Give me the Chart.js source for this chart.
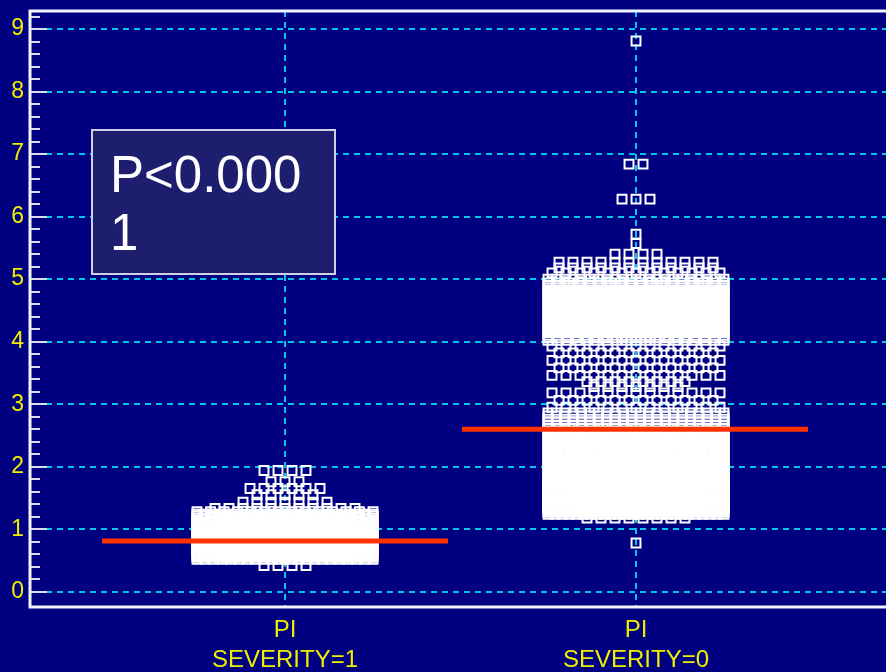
<!DOCTYPE html>
<html>
<head>
<meta charset="utf-8">
<script src="https://cdn.jsdelivr.net/npm/chart.js@4.4.0/dist/chart.umd.min.js"></script>
<style>
  html, body { margin: 0; padding: 0; background: #000080; overflow: hidden; }
  #wrap { position: relative; width: 886px; height: 672px; }
  canvas { display: block; }
</style>
</head>
<body>
<div id="wrap"><canvas id="c" width="886" height="672"></canvas></div>
<script>
// ---------------- data ----------------
const categoryLabels = [['PI', 'SEVERITY=1'], ['PI', 'SEVERITY=0']];
const categoryPositions = [1, 2];
const yTickValues = [0, 1, 2, 3, 4, 5, 6, 7, 8, 9];

// SEVERITY=1 : PI value levels and number of observations at each level
const sev1Values = [0.42,
  0.52, 0.55, 0.58, 0.61, 0.64, 0.67, 0.70, 0.73, 0.76, 0.79, 0.82, 0.85, 0.88,
  0.91, 0.94, 0.97, 1.00, 1.03, 1.06, 1.09, 1.12, 1.15, 1.18, 1.21, 1.24,
  1.28, 1.33, 1.43, 1.55, 1.65, 1.76, 1.94];
const sev1Counts = [4,
  22, 25, 23, 26, 24, 22, 25, 23, 26, 24, 22, 25, 23,
  26, 24, 22, 25, 23, 26, 24, 22, 25, 23, 26, 24,
  14, 11, 7, 5, 6, 3, 4];

// SEVERITY=0 : PI value levels and number of observations at each level
const sev0Values = [0.78, 1.18,
  1.24, 1.27, 1.30, 1.33, 1.36, 1.39, 1.42, 1.45, 1.48, 1.51,
  1.54, 1.57, 1.60, 1.63, 1.66, 1.69, 1.72, 1.75, 1.78, 1.81,
  1.85, 1.89, 1.93, 1.97, 2.01, 2.05, 2.09, 2.13, 2.17, 2.21, 2.25,
  2.29, 2.33, 2.37, 2.41, 2.45, 2.49, 2.53, 2.57, 2.61,
  2.66, 2.71, 2.76, 2.81, 2.86,
  2.95, 3.06, 3.18, 3.28, 3.36,
  3.46, 3.58, 3.70, 3.82, 3.93,
  4.02, 4.06, 4.10, 4.14, 4.18, 4.22, 4.26, 4.30, 4.34, 4.38, 4.42, 4.46,
  4.50, 4.54, 4.58, 4.62, 4.66, 4.70, 4.74, 4.78, 4.82, 4.86, 4.90, 4.94,
  5.00, 5.10, 5.18, 5.27, 5.40, 5.57, 5.72, 6.28, 6.84, 8.81];
const sev0Counts = [1, 8,
  26, 25, 27, 26, 24, 27, 25, 26, 24, 27,
  25, 26, 27, 24, 26, 25, 27, 26, 24, 25,
  22, 21, 23, 22, 21, 23, 22, 21, 23, 22, 21,
  17, 17, 17, 17, 17, 17, 17, 17, 17,
  22, 22, 22, 22, 22,
  13, 12, 13, 7, 8,
  13, 12, 13, 12, 13,
  19, 20, 19, 20, 19, 20, 19, 20, 19, 20, 19, 20,
  18, 18, 18, 18, 18, 18, 18, 18, 18, 18, 18, 18,
  22, 13, 12, 12, 4, 1, 1, 3, 2, 1];

// central (red) lines, one per group
const centralValues = [0.81, 2.60];

const annotationLines = ['P<0.000', '1'];

// ---------------- layout / style ----------------
const X_MIN = 0.2735, X_MAX = 2.7122;
const PX_PER_UNIT = 856 / (X_MAX - X_MIN);
const DOT_STEP_PX = 14;      // horizontal spacing of markers
const DOT_SPAN_PX = 176;     // max spread of marker centres per row
const LINE_EXTENT_PX = [[-183, 163], [-174, 172]];
const YELLOW = '#eeee00';
const CYAN = '#00c8e8';
const FONT = '"Liberation Sans", Arial, sans-serif';

function buildDots(center, values, counts) {
  const pts = [];
  values.forEach((v, k) => {
    const n = counts[k];
    const step = n > 1 ? Math.min(DOT_STEP_PX, DOT_SPAN_PX / (n - 1)) : 0;
    for (let i = 0; i < n; i++) {
      const off = (i - (n - 1) / 2) * step;
      pts.push({ x: center + off / PX_PER_UNIT, y: v });
    }
  });
  return pts;
}

function centralLine(k) {
  const c = categoryPositions[k];
  return [
    { x: c + LINE_EXTENT_PX[k][0] / PX_PER_UNIT, y: centralValues[k] },
    { x: c + LINE_EXTENT_PX[k][1] / PX_PER_UNIT, y: centralValues[k] }
  ];
}

const dotStyle = {
  type: 'scatter',
  showLine: false,
  pointStyle: 'rect',
  pointRadius: 6.3,
  pointHoverRadius: 6.3,
  pointBorderWidth: 2,
  pointBorderColor: '#ffffff',
  pointBackgroundColor: 'rgba(0,0,0,0)',
  order: 1
};
const lineStyle = {
  type: 'line',
  showLine: true,
  borderColor: '#ff3300',
  borderWidth: 5,
  pointRadius: 0,
  fill: false,
  order: 0
};

const decor = {
  id: 'decor',
  beforeDraw(chart) {
    const ctx = chart.ctx;
    ctx.save();
    ctx.fillStyle = '#000080';
    ctx.fillRect(0, 0, chart.width, chart.height);
    ctx.restore();
  },
  beforeDatasetsDraw(chart) {
    const { ctx, chartArea: a, scales: { x, y } } = chart;
    ctx.save();
    ctx.strokeStyle = CYAN;
    ctx.lineWidth = 2;
    ctx.setLineDash([6, 5]);
    yTickValues.forEach(v => {
      const py = Math.round(y.getPixelForValue(v));
      ctx.beginPath();
      ctx.moveTo(a.left + 16, py);
      ctx.lineTo(a.right, py);
      ctx.stroke();
    });
    categoryPositions.forEach(v => {
      const px = Math.round(x.getPixelForValue(v));
      ctx.beginPath();
      ctx.moveTo(px, a.top);
      ctx.lineTo(px, a.bottom);
      ctx.stroke();
    });
    ctx.restore();
  },
  afterDatasetsDraw(chart) {
    const { ctx, chartArea: a, scales: { y } } = chart;
    ctx.save();
    // annotation box
    ctx.fillStyle = '#1e1e6e';
    ctx.fillRect(91, 129, 245, 146);
    ctx.strokeStyle = '#d0d0e4';
    ctx.lineWidth = 2;
    ctx.strokeRect(92, 130, 243, 144);
    ctx.fillStyle = '#ffffff';
    ctx.font = '51px ' + FONT;
    ctx.textBaseline = 'alphabetic';
    ctx.textAlign = 'left';
    ctx.fillText(annotationLines[0], 110, 192);
    ctx.fillText(annotationLines[1], 110, 250);

    // tick marks (inside the frame)
    ctx.strokeStyle = '#dcdcec';
    ctx.lineWidth = 2;
    for (let t = 0; t <= 9.2001; t += 0.2) {
      const v = Math.round(t * 10) / 10;
      const py = Math.round(y.getPixelForValue(v));
      const major = Math.abs(v - Math.round(v)) < 1e-6;
      ctx.beginPath();
      ctx.moveTo(a.left, py);
      ctx.lineTo(a.left + (major ? 17 : 10), py);
      ctx.stroke();
    }
    // frame
    ctx.strokeStyle = '#f4f4ff';
    ctx.lineWidth = 3;
    ctx.beginPath();
    ctx.moveTo(a.right + 2, a.top);
    ctx.lineTo(a.left, a.top);
    ctx.lineTo(a.left, a.bottom);
    ctx.lineTo(a.right + 2, a.bottom);
    ctx.stroke();
    ctx.restore();
  }
};

new Chart(document.getElementById('c'), {
  type: 'scatter',
  data: {
    datasets: [
      Object.assign({ data: centralLine(0) }, lineStyle),
      Object.assign({ data: centralLine(1) }, lineStyle),
      Object.assign({ data: buildDots(categoryPositions[0], sev1Values, sev1Counts) }, dotStyle),
      Object.assign({ data: buildDots(categoryPositions[1], sev0Values, sev0Counts) }, dotStyle)
    ]
  },
  options: {
    responsive: false,
    devicePixelRatio: 1,
    animation: false,
    events: [],
    layout: { autoPadding: false, padding: { top: 11, left: 0, right: 0, bottom: 0 } },
    plugins: { legend: { display: false }, tooltip: { enabled: false } },
    scales: {
      x: {
        type: 'linear',
        min: X_MIN,
        max: X_MAX,
        afterBuildTicks: s => { s.ticks = categoryPositions.map(v => ({ value: v })); },
        afterFit: s => { s.height = 65; s.paddingLeft = 0; s.paddingRight = 0; },
        grid: { display: false, drawTicks: false },
        border: { display: false },
        ticks: {
          autoSkip: false,
          maxRotation: 0,
          padding: 8,
          color: YELLOW,
          font: { family: FONT, size: 24, lineHeight: 1.25 },
          callback: (v, i) => categoryLabels[i]
        }
      },
      y: {
        type: 'linear',
        min: -0.245,
        max: 9.29,
        afterBuildTicks: s => { s.ticks = yTickValues.map(v => ({ value: v })); },
        afterFit: s => { s.width = 30; s.paddingTop = 0; s.paddingBottom = 0; },
        grid: { display: false, drawTicks: false },
        border: { display: false },
        ticks: {
          padding: 6,
          color: YELLOW,
          font: { family: FONT, size: 23 },
          callback: v => String(v)
        }
      }
    }
  },
  plugins: [decor]
});
</script>
</body>
</html>
